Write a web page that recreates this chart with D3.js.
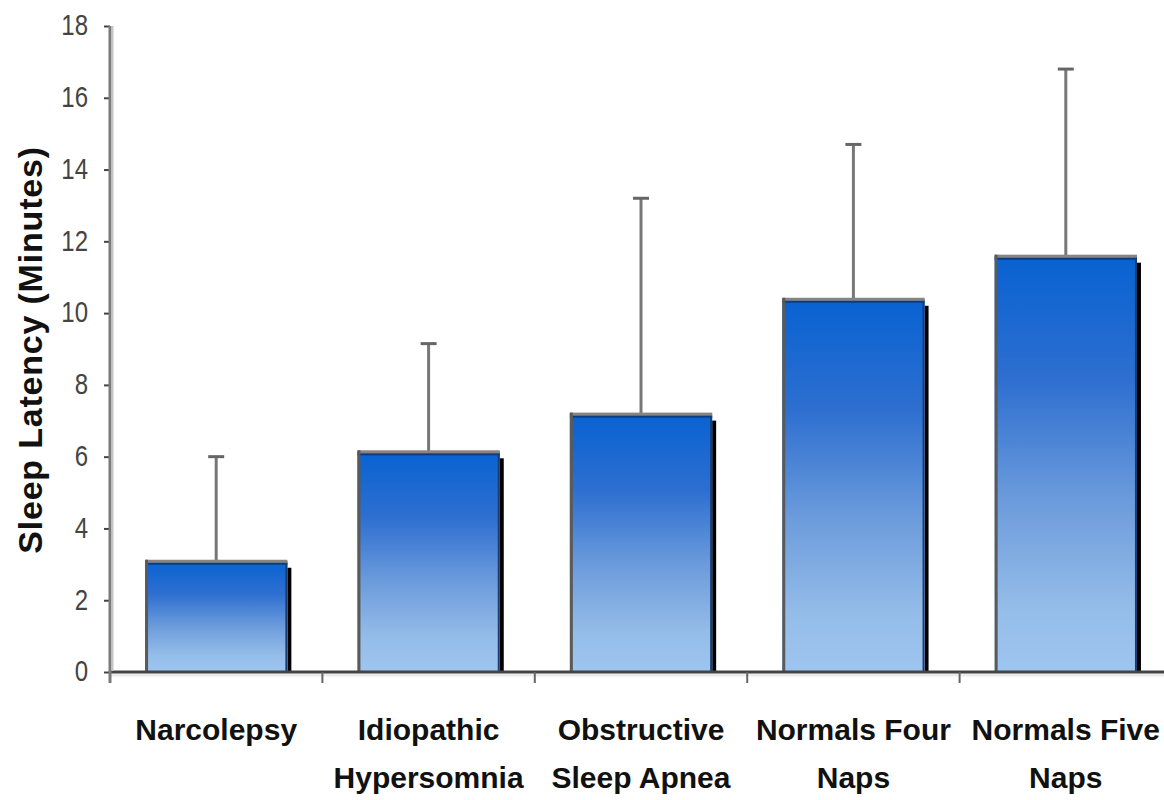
<!DOCTYPE html>
<html>
<head>
<meta charset="utf-8">
<script src="https://cdn.jsdelivr.net/npm/d3@7"></script>
<style>
  html, body { margin: 0; padding: 0; background: #fff; }
  svg { display: block; }
</style>
</head>
<body>
<svg id="chart" width="1164" height="800"></svg>
<script>
// ---- data ----
const categories = ["Narcolepsy", "Idiopathic Hypersomnia", "Obstructive Sleep Apnea", "Normals Four Naps", "Normals Five Naps"];
const labelLine1 = ["Narcolepsy", "Idiopathic", "Obstructive", "Normals Four", "Normals Five"];
const labelLine2 = ["", "Hypersomnia", "Sleep Apnea", "Naps", "Naps"];
const meanLatency = [3.1, 6.15, 7.2, 10.4, 11.6];
const sdLatency = [2.9, 3.0, 6.0, 4.3, 5.2];
const yTicks = [0, 2, 4, 6, 8, 10, 12, 14, 16, 18];
const yLabel = "Sleep Latency (Minutes)";

const svg = d3.select("#chart");
const W = 1164, H = 800;
const x0 = 110, x1 = 1172, yBase = 672, yTop = 26;

const x = d3.scaleBand().domain(categories).range([x0, x1]).paddingInner(0.33).paddingOuter(0.165);
const y = d3.scaleLinear().domain([0, 18]).range([yBase, yTop]);

const defs = svg.append("defs");
const grad = defs.append("linearGradient").attr("id", "barGrad")
  .attr("x1", 0).attr("y1", 0).attr("x2", 0).attr("y2", 1);
grad.append("stop").attr("offset", "0%").attr("stop-color", "#0862d2");
grad.append("stop").attr("offset", "30%").attr("stop-color", "#2e6fd0");
grad.append("stop").attr("offset", "60%").attr("stop-color", "#6e9ddc");
grad.append("stop").attr("offset", "85%").attr("stop-color", "#95bde9");
grad.append("stop").attr("offset", "100%").attr("stop-color", "#9dc5ef");

const data = categories.map((c, i) => ({ c, m: meanLatency[i], sd: sdLatency[i], l1: labelLine1[i], l2: labelLine2[i] }));

// x-axis shadow line
svg.append("line").attr("x1", x0).attr("x2", W).attr("y1", yBase + 3).attr("y2", yBase + 3)
  .attr("stroke", "#ececec").attr("stroke-width", 3);

// error bars (behind bars)
const eb = svg.append("g");
data.forEach(d => {
  const cx = x(d.c) + x.bandwidth() / 2;
  eb.append("line").attr("x1", cx).attr("x2", cx).attr("y1", y(d.m)).attr("y2", y(d.m + d.sd))
    .attr("stroke", "#777").attr("stroke-width", 3);
  eb.append("line").attr("x1", cx - 8).attr("x2", cx + 8).attr("y1", y(d.m + d.sd)).attr("y2", y(d.m + d.sd))
    .attr("stroke", "#666").attr("stroke-width", 3);
});

// bars
const bars = svg.append("g");
data.forEach(d => {
  const bx = x(d.c), bw = x.bandwidth(), by = y(d.m);
  // shadow on the right
  bars.append("rect").attr("x", bx + bw).attr("y", by + 7).attr("width", 4).attr("height", yBase - by - 7)
    .attr("fill", "#000");
  bars.append("rect").attr("x", bx).attr("y", by).attr("width", bw).attr("height", yBase - by)
    .attr("fill", "url(#barGrad)");
  // navy top inner line
  bars.append("rect").attr("x", bx).attr("y", by + 2).attr("width", bw).attr("height", 2).attr("fill", "#0a3c86");
  // right inner dark edge
  bars.append("rect").attr("x", bx + bw - 2).attr("y", by + 2).attr("width", 2).attr("height", yBase - by - 2).attr("fill", "#1a3d70");
  // gray top border
  bars.append("rect").attr("x", bx).attr("y", by - 1).attr("width", bw).attr("height", 3).attr("fill", "#8a847f");
  // left border
  bars.append("rect").attr("x", bx).attr("y", by - 1).attr("width", 3).attr("height", yBase - by + 1).attr("fill", "#5a5a5a");
});

// x axis baseline
svg.append("line").attr("x1", x0).attr("x2", W).attr("y1", yBase).attr("y2", yBase)
  .attr("stroke", "#444").attr("stroke-width", 3);

// x boundary ticks
const step = x.step();
const gap = step - x.bandwidth();
categories.forEach(c => {
  const bxx = x(c) - gap / 2;
  svg.append("line").attr("x1", bxx).attr("x2", bxx).attr("y1", yBase).attr("y2", yBase + 11)
    .attr("stroke", "#666").attr("stroke-width", 2);
});

// y axis
const yAxis = d3.axisLeft(y).tickValues(yTicks).tickSize(6).tickPadding(16).tickFormat(d3.format("d"));
const yg = svg.append("g").attr("transform", `translate(${x0},0)`).call(yAxis);
yg.select(".domain").remove();
yg.selectAll(".tick line").attr("stroke", "#444").attr("stroke-width", 2);
yg.selectAll(".tick text")
  .attr("font-family", "'Liberation Sans', Arial, sans-serif")
  .attr("font-size", 24).attr("fill", "#444")
  .attr("dy", "0.3em")
  .attr("transform", "scale(1,1.22)");
svg.append("line").attr("x1", x0).attr("x2", x0).attr("y1", yTop).attr("y2", yBase + 11)
  .attr("stroke", "#7a7a7a").attr("stroke-width", 3);
svg.append("line").attr("x1", x0 + 2.5).attr("x2", x0 + 2.5).attr("y1", yTop).attr("y2", yBase - 1)
  .attr("stroke", "#c4c4c4").attr("stroke-width", 2);

// category labels
const lab = svg.append("g").attr("font-family", "'Liberation Sans', Arial, sans-serif")
  .attr("font-weight", "bold").attr("font-size", 30).attr("fill", "#111").attr("text-anchor", "middle");
data.forEach(d => {
  const cx = x(d.c) + x.bandwidth() / 2;
  lab.append("text").attr("x", cx).attr("y", 740).text(d.l1);
  if (d.l2) lab.append("text").attr("x", cx).attr("y", 788).text(d.l2);
});

// y label
svg.append("text")
  .attr("transform", "translate(42,350) rotate(-90)")
  .attr("text-anchor", "middle")
  .attr("font-family", "'Liberation Sans', Arial, sans-serif")
  .attr("font-weight", "bold").attr("font-size", 34).attr("letter-spacing", 0.8).attr("fill", "#111")
  .text(yLabel);
</script>
</body>
</html>
